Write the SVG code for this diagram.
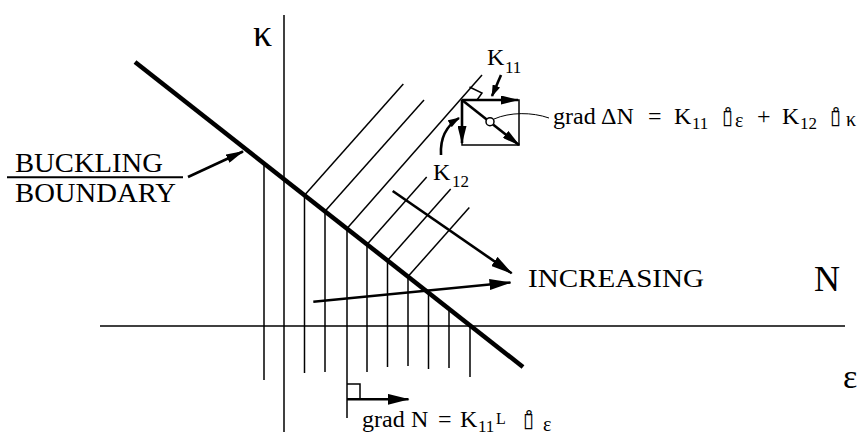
<svg xmlns="http://www.w3.org/2000/svg" width="866" height="436" viewBox="0 0 866 436">
<style>
  .thin{stroke:#000;stroke-width:1.5;fill:none}
  .thick{stroke:#000;stroke-width:4.5;fill:none}
  .arr{stroke:#000;stroke-width:2.6;fill:none}
  .t{font-family:"Liberation Serif","Times New Roman",serif;fill:#000}
  .box{font-family:"DejaVu Sans",sans-serif;fill:#000;font-size:20px}
</style>
<defs>
  <marker id="big" viewBox="0 0 22 11" refX="21" refY="5.5" markerWidth="22" markerHeight="11" orient="auto" markerUnits="userSpaceOnUse">
    <path d="M0,0 L22,5.5 L0,11 Z" fill="#000"/>
  </marker>
  <marker id="mid" viewBox="0 0 18 9" refX="17" refY="4.5" markerWidth="18" markerHeight="9" orient="auto" markerUnits="userSpaceOnUse">
    <path d="M0,0 L18,4.5 L0,9 Z" fill="#000"/>
  </marker>
  <marker id="sm" viewBox="0 0 12 8" refX="11" refY="4" markerWidth="12" markerHeight="8" orient="auto" markerUnits="userSpaceOnUse">
    <path d="M0,0 L12,4 L0,8 Z" fill="#000"/>
  </marker>
</defs>
<rect width="866" height="436" fill="#fff"/>

<g id="axes">
  <line class="thin" x1="284" y1="15" x2="284" y2="432"/>
  <line class="thin" x1="100" y1="326" x2="845" y2="326"/>
</g>

<g id="hatching">
  <line class="thin" x1="264" y1="163.4" x2="264" y2="380"/>
  <line class="thin" x1="304.5" y1="195.2" x2="304.5" y2="373"/>
  <line class="thin" x1="325" y1="211.3" x2="325" y2="372"/>
  <line class="thin" x1="347" y1="228.6" x2="347" y2="418"/>
  <line class="thin" x1="367" y1="244.4" x2="367" y2="372"/>
  <line class="thin" x1="387.5" y1="260.5" x2="387.5" y2="367"/>
  <line class="thin" x1="408" y1="276.6" x2="408" y2="366"/>
  <line class="thin" x1="428.5" y1="292.7" x2="428.5" y2="369"/>
  <line class="thin" x1="449" y1="308.8" x2="449" y2="368"/>
  <line class="thin" x1="470" y1="325.3" x2="470" y2="377"/>
  <line class="thin" x1="304.5" y1="195.2" x2="403.3" y2="84"/>
  <line class="thin" x1="325" y1="211.3" x2="424" y2="100"/>
  <line class="thin" x1="347" y1="228.6" x2="482" y2="75"/>
  <line class="thin" x1="367" y1="244.4" x2="426.7" y2="177"/>
  <line class="thin" x1="387.5" y1="260.5" x2="450.7" y2="189"/>
  <line class="thin" x1="408" y1="276.6" x2="469.3" y2="207.5"/>
</g>

<g id="boundary">
  <line class="thick" x1="135" y1="62" x2="523" y2="367"/>
</g>

<g id="connectors">
  <line class="arr" x1="188" y1="177" x2="243" y2="151.5" marker-end="url(#mid)"/>
  <line class="arr" x1="392.7" y1="191" x2="511.7" y2="273.3" marker-end="url(#big)"/>
  <line class="arr" x1="313.3" y1="301.7" x2="510.5" y2="282.5" marker-end="url(#big)"/>
  <line class="arr" x1="347" y1="399.3" x2="408.5" y2="399.3" marker-end="url(#big)"/>
  <polyline class="thin" points="347,384 360,384 360,399.3"/>
  <line class="arr" x1="501" y1="75" x2="492" y2="96" marker-end="url(#sm)"/>
  <path class="arr" d="M441,155 C440,138 446,126 459,118" marker-end="url(#sm)"/>
  <path stroke="#000" stroke-width="1" fill="none" d="M494,119 C510,112 532,112 549,118"/>
</g>

<g id="gradient-box">
  <rect class="thin" x="462" y="100" width="57" height="45"/>
  <line class="arr" x1="462" y1="100" x2="518" y2="100" marker-end="url(#mid)"/>
  <line class="arr" x1="462" y1="100" x2="462" y2="143" marker-end="url(#mid)"/>
  <line class="arr" x1="462" y1="100" x2="519" y2="145" marker-end="url(#mid)"/>
  <polyline class="thin" points="469.5,87 482,93 477,100"/>
  <circle cx="490" cy="121.7" r="4" fill="#fff" stroke="#000" stroke-width="1.5"/>
</g>

<g id="labels">
  <text class="t" x="253" y="46" font-size="38">κ</text>
  <text class="t" x="843" y="388" font-size="34">ε</text>
  <text class="t" x="15" y="172" font-size="27" textLength="148" lengthAdjust="spacingAndGlyphs">BUCKLING</text>
  <line stroke="#000" stroke-width="2" x1="7" y1="177.3" x2="183" y2="177.3"/>
  <text class="t" x="15" y="202" font-size="27" textLength="161" lengthAdjust="spacingAndGlyphs">BOUNDARY</text>
  <text class="t" x="528" y="287" font-size="26" textLength="176" lengthAdjust="spacingAndGlyphs">INCREASING</text>
  <text class="t" x="814" y="291" font-size="36">N</text>

  <text class="t" x="487" y="65" font-size="24">K</text>
  <text class="t" x="505" y="73" font-size="17">11</text>
  <text class="t" x="433" y="180" font-size="24">K</text>
  <text class="t" x="452" y="187" font-size="17">12</text>
</g>

<g id="formula-top">
  <text class="t" x="553" y="124" font-size="24">grad</text>
  <text class="t" x="601" y="124" font-size="24">ΔN</text>
  <text class="t" x="648" y="124" font-size="24">=</text>
  <text class="t" x="674" y="124" font-size="24">K</text>
  <text class="t" x="692" y="129" font-size="17">11</text>
  <text class="box" x="722" y="124">▯̊</text>
  <text class="t" x="735" y="127" font-size="20">ε</text>
  <text class="t" x="757" y="124" font-size="24">+</text>
  <text class="t" x="782" y="124" font-size="24">K</text>
  <text class="t" x="800" y="129" font-size="17">12</text>
  <text class="box" x="830" y="124">▯̊</text>
  <text class="t" x="846" y="126" font-size="20">κ</text>
</g>

<g id="formula-bottom">
  <text class="t" x="362" y="427" font-size="24">grad</text>
  <text class="t" x="411" y="427" font-size="24">N</text>
  <text class="t" x="438" y="427" font-size="24">=</text>
  <text class="t" x="460" y="427" font-size="24">K</text>
  <text class="t" x="478" y="432" font-size="17">11</text>
  <text class="t" x="496" y="424" font-size="16">L</text>
  <text class="box" x="523" y="427">▯̊</text>
  <text class="t" x="543" y="431" font-size="20">ε</text>
</g>
</svg>
